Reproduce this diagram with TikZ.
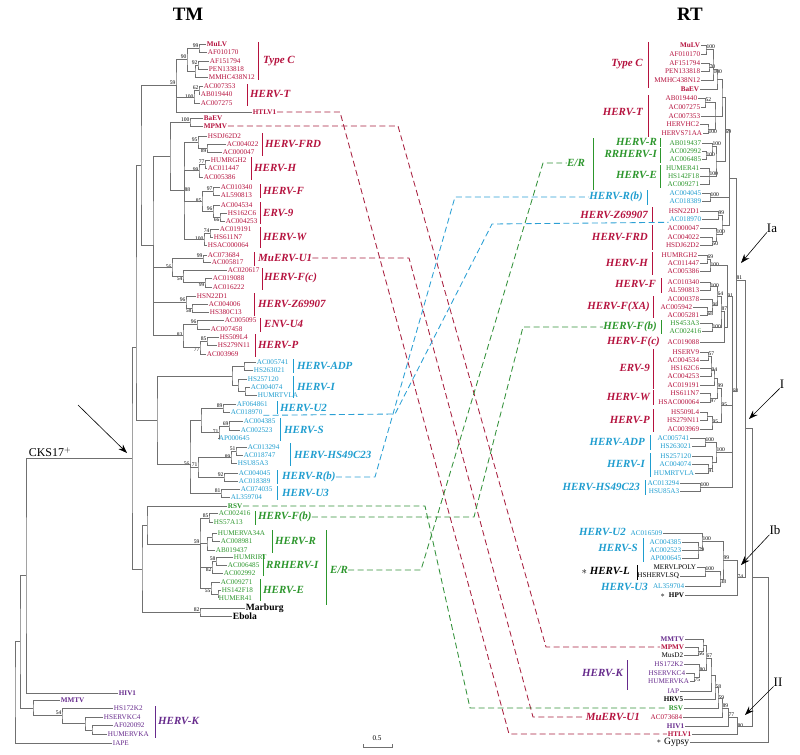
\documentclass[tikz,border=0pt]{standalone}
\usepackage{fontspec}
\setmainfont{Liberation Serif}
\usetikzlibrary{arrows.meta}
\definecolor{ervred}{HTML}{B5123E}
\definecolor{ervblue}{HTML}{1F9DCF}
\definecolor{ervgreen}{HTML}{2C962C}
\definecolor{ervpurple}{HTML}{662A8C}
\definecolor{brgray}{HTML}{707070}
\definecolor{lnkred}{HTML}{A8203F}
\definecolor{lnkgreen}{HTML}{33913A}
\definecolor{lnkblue}{HTML}{2A9FD4}
\newcommand{\lfont}{\fontsize{7.2}{8}\selectfont}
\newcommand{\gfont}{\fontsize{11}{12}\selectfont\bfseries\itshape}
\newcommand{\bfont}{\fontsize{5.6}{6}\selectfont}
\newcommand{\tfont}{\fontsize{19}{20}\selectfont\bfseries}
\newcommand{\cfont}{\fontsize{13}{14}\selectfont}

\begin{document}
\begin{tikzpicture}[x=1bp,y=-1bp,
  leafL/.style={anchor=west, inner sep=0.7pt, font=\lfont},
  leafR/.style={anchor=east, inner sep=0.7pt, font=\lfont},
  virL/.style={leafL, font=\lfont\bfseries},
  virR/.style={leafR, font=\lfont\bfseries},
  grpL/.style={anchor=west, inner sep=0pt, font=\gfont},
  grpR/.style={anchor=east, inner sep=0pt, font=\gfont},
  br/.style={draw=brgray, line width=0.55pt},
  bs/.style={font=\bfont, inner sep=0.4pt, text=black},
  brk/.style={line width=0.6pt},
  lnk/.style={line width=0.85pt, dash pattern=on 6pt off 3.5pt},
  clade/.style={font=\cfont, inner sep=0pt},
  star/.style={anchor=east, inner sep=0pt, font=\fontsize{8.5}{9}\selectfont},
  pnt/.style={-{Stealth[length=9pt,width=6.5pt]}, line width=0.6pt},
]
\useasboundingbox (0,0) rectangle (800,755);
% titles
\node[font=\tfont] (ttm) at (188,14) {TM};
\node[font=\tfont] (trt) at (690,14) {RT};

% ================= TM tree: leaves =================
\foreach \n/\y/\x in {AF010170/52/207, AF151794/61/209, PEN133818/69/208, MMHC438N12/77/208,
  AC007353/86/203, AB019440/94/200, AC007275/103/200, HSDJ62D2/136/207, AC004022/144/226,
  AC000047/152/222, HUMRGH2/160/210, AC011447/168/207, AC005386/177/203, AC010340/187/220,
  AL590813/195/220, AC004534/205/220, HS162C6/213/227, AC004253/221/225, AC019191/229/219,
  HS611N7/237/213, HSAC000064/245/207, AC073684/255/207, AC005817/262/211, AC020617/270/227,
  AC019088/278/212, AC016222/287/212, HSN22D1/296/196, AC004006/304/208, HS380C13/312/209,
  AC005095/320/224, AC007458/329/210, HS509L4/337/219, HS279N11/345/217, AC003969/354/206}
  \node[leafL, text=ervred] (tm-\n) at (\x,\y) {\n};
\foreach \n/\y/\x in {MuLV/44/206, HTLV1/112/252, BaEV/118/203, MPMV/126/203}
  \node[virL, text=ervred] (tm-\n) at (\x,\y) {\n};
\foreach \n/\y/\x in {AC005741/362/256, HS263021/370/253, HS257120/379/247, AC004074/387/250,
  HUMRTVLA/395/257, AF064861/404/236, AC018970/412/230, AC004385/421/243, AC002523/430/240,
  AP000645/438/218, AC013294/447/247, AC018747/455/243, HSU85A3/463/237, AC004045/473/238,
  AC018389/481/238, AC074035/489/240, AL359704/497/230}
  \node[leafL, text=ervblue] (tm-\n) at (\x,\y) {\n};
\foreach \n/\y/\x in {AC002416/513/218, HS57A13/522/213, HUMERVA34A/533/217, AC008981/541/220,
  AB019437/550/215, HUMRIRT/557/233, AC006485/565/227, AC002992/573/223, AC009271/582/220,
  HS142F18/590/221, HUMER41/598/218}
  \node[leafL, text=ervgreen] (tm-\n) at (\x,\y) {\n};
\node[virL, text=ervgreen] (tm-RSV) at (227,506) {RSV};
\node[leafL, font=\fontsize{9.6}{10}\selectfont\bfseries] (tm-Marburg) at (245,608) {Marburg};
\node[leafL, font=\fontsize{9.6}{10}\selectfont\bfseries] (tm-Ebola) at (232,616) {Ebola};
\foreach \n/\y/\x in {HS172K2/708/113, HSERVKC4/717/103, AF020092/725/113, HUMERVKA/734/107, IAPE/743/112}
  \node[leafL, text=ervpurple] (tm-\n) at (\x,\y) {\n};
\foreach \n/\y/\x in {HIV1/693/118, MMTV/700/60}
  \node[virL, text=ervpurple] (tm-\n) at (\x,\y) {\n};

% ================= TM tree: branches =================
\coordinate[label={[bs]above left:99}] (a1) at (199,48);
\coordinate[label={[bs]above left:92}] (a2) at (198,65);
\coordinate (a3) at (195,71);
\coordinate[label={[bs]above left:90}] (a4) at (187,59);
\coordinate[label={[bs]above left:62}] (t1) at (199,90);
\coordinate[label={[bs]left:100}] (t2) at (194,97);
\coordinate[label={[bs]above left:59}] (a5) at (176,85);
\coordinate[label={[bs]above left:100}] (m1) at (190,122);
\coordinate[label={[bs]below left:89}] (f1) at (207,148);
\coordinate[label={[bs]above left:95}] (f2) at (198,142);
\coordinate[label={[bs]above left:77}] (h1) at (205,164);
\coordinate[label={[bs]left:99}] (h2) at (199,170);
\coordinate[label={[bs]above left:97}] (g1) at (213,191);
\coordinate[label={[bs]below left:66}] (e1) at (220,217);
\coordinate[label={[bs]above left:96}] (e2) at (213,211);
\coordinate[label={[bs]left:85}] (g2) at (202,201);
\coordinate[label={[bs]above left:74}] (w1) at (210,233);
\coordinate[label={[bs]left:100}] (w2) at (204,239);
\coordinate[label={[bs]right:88}] (r1) at (184,190);
\coordinate (r2) at (170,156);
\coordinate[label={[bs]above left:99}] (u1) at (203,258);
\coordinate[label={[bs]below left:99}] (fc1) at (205,282);
\coordinate[label={[bs]below left:54}] (fc2) at (183,276);
\coordinate[label={[bs]left:56}] (u2) at (172,267);
\coordinate[label={[bs]below left:58}] (z1) at (192,308);
\coordinate[label={[bs]above left:96}] (z2) at (186,302);
\coordinate[label={[bs]above left:96}] (v1) at (197,324);
\coordinate[label={[bs]above left:85}] (p1) at (207,341);
\coordinate[label={[bs]below left:77}] (p2) at (200,347);
\coordinate[label={[bs]left:83}] (v2) at (183,335);
\coordinate (r3) at (153,245);
\coordinate (r5) at (141,165);
\draw[br] (tm-MuLV.west) -| (a1) |- (tm-AF010170.west);
\draw[br] (tm-AF151794.west) -| (a2) |- (tm-PEN133818.west);
\draw[br] (a2) -| (a3) |- (tm-MMHC438N12.west);
\draw[br] (a1) -| (a4) |- (a3);
\draw[br] (tm-AC007353.west) -| (t1) |- (tm-AB019440.west);
\draw[br] (t1) -| (t2) |- (tm-AC007275.west);
\draw[br] (a4) -| (a5) |- (tm-HTLV1.west) (t2) -| (a5);
\draw[br] (tm-BaEV.west) -| (m1) |- (tm-MPMV.west);
\draw[br] (tm-AC004022.west) -| (f1) |- (tm-AC000047.west);
\draw[br] (tm-HSDJ62D2.west) -| (f2) |- (f1);
\draw[br] (tm-HUMRGH2.west) -| (h1) |- (tm-AC011447.west);
\draw[br] (h1) -| (h2) |- (tm-AC005386.west);
\draw[br] (tm-AC010340.west) -| (g1) |- (tm-AL590813.west);
\draw[br] (tm-HS162C6.west) -| (e1) |- (tm-AC004253.west);
\draw[br] (tm-AC004534.west) -| (e2) |- (e1);
\draw[br] (g1) -| (g2) |- (e2);
\draw[br] (tm-AC019191.west) -| (w1) |- (tm-HS611N7.west);
\draw[br] (w1) -| (w2) |- (tm-HSAC000064.west);
\draw[br] (f2) -| (r1) |- (w2) (h2) -| (r1) (g2) -| (r1);
\draw[br] (m1) -| (r2) |- (r1);
\draw[br] (tm-AC073684.west) -| (u1) |- (tm-AC005817.west);
\draw[br] (tm-AC019088.west) -| (fc1) |- (tm-AC016222.west);
\draw[br] (tm-AC020617.west) -| (fc2) |- (fc1);
\draw[br] (u1) -| (u2) |- (fc2);
\draw[br] (tm-AC004006.west) -| (z1) |- (tm-HS380C13.west);
\draw[br] (tm-HSN22D1.west) -| (z2) |- (z1);
\draw[br] (tm-AC005095.west) -| (v1) |- (tm-AC007458.west);
\draw[br] (tm-HS509L4.west) -| (p1) |- (tm-HS279N11.west);
\draw[br] (p1) -| (p2) |- (tm-AC003969.west);
\draw[br] (v1) -| (v2) |- (p2);
\draw[br] (r2) -| (r3) |- (v2) (u2) -| (r3) (z2) -| (r3);
\draw[br] (a5) -| (r5) |- (r3);
% blue part
\coordinate (d1) at (244,366);
\coordinate (i1) at (245,391);
\coordinate (i2) at (238,385);
\coordinate (d2) at (232,376);
\coordinate[label={[bs]above left:89}] (s0) at (223,408);
\coordinate[label={[bs]above left:69}] (s1) at (229,426);
\coordinate[label={[bs]left:71}] (s2) at (219,432);
\coordinate (s3) at (201,420);
\coordinate[label={[bs]above left:51}] (k1) at (236,451);
\coordinate[label={[bs]left:89}] (k2) at (231,457);
\coordinate[label={[bs]above left:92}] (rb) at (224,477);
\coordinate[label={[bs]above left:71}] (k3) at (198,467);
\coordinate[label={[bs]above left:81}] (u3) at (221,493);
\coordinate[label={[bs]left:56}] (s4) at (190,464);
\coordinate (bl) at (157,420);
\coordinate (r4) at (136,347);
\draw[br] (tm-AC005741.west) -| (d1) |- (tm-HS263021.west);
\draw[br] (tm-AC004074.west) -| (i1) |- (tm-HUMRTVLA.west);
\draw[br] (tm-HS257120.west) -| (i2) |- (i1);
\draw[br] (d1) -| (d2) |- (i2);
\draw[br] (tm-AF064861.west) -| (s0) |- (tm-AC018970.west);
\draw[br] (tm-AC004385.west) -| (s1) |- (tm-AC002523.west);
\draw[br] (s1) -| (s2) |- (tm-AP000645.west);
\draw[br] (s0) -| (s3) |- (s2);
\draw[br] (tm-AC013294.west) -| (k1) |- (tm-AC018747.west);
\draw[br] (k1) -| (k2) |- (tm-HSU85A3.west);
\draw[br] (tm-AC004045.west) -| (rb) |- (tm-AC018389.west);
\draw[br] (k2) -| (k3) |- (rb);
\draw[br] (tm-AC074035.west) -| (u3) |- (tm-AL359704.west);
\draw[br] (s3) -| (s4) |- (u3) (k3) -| (s4);
\draw[br] (d2) -| (bl) |- (s4);
\draw[br] (r5) -| (r4) |- (bl);
% green part
\coordinate[label={[bs]above left:85}] (gb) at (209,518);
\coordinate (gr1) at (212,537);
\coordinate (gr2) at (207,543);
\coordinate[label={[bs]above left:58}] (gi1) at (216,561);
\coordinate[label={[bs]below left:82}] (gi2) at (212,567);
\coordinate (ge1) at (218,594);
\coordinate[label={[bs]below left:55}] (ge2) at (211,588);
\coordinate[label={[bs]above left:59}] (g59) at (200,544);
\coordinate (rsv) at (147,525);
\coordinate[label={[bs]above left:82}] (mb) at (200,612);
\coordinate (low) at (142,569);
\coordinate (ck) at (132,458);
\draw[br] (tm-AC002416.west) -| (gb) |- (tm-HS57A13.west);
\draw[br] (tm-HUMERVA34A.west) -| (gr1) |- (tm-AC008981.west);
\draw[br] (gr1) -| (gr2) |- (tm-AB019437.west);
\draw[br] (tm-HUMRIRT.west) -| (gi1) |- (tm-AC006485.west);
\draw[br] (gi1) -| (gi2) |- (tm-AC002992.west);
\draw[br] (tm-HS142F18.west) -| (ge1) |- (tm-HUMER41.west);
\draw[br] (tm-AC009271.west) -| (ge2) |- (ge1);
\draw[br] (gb) -| (g59) |- (ge2) (gr2) -| (g59) (gi2) -| (g59);
\draw[br] (tm-RSV.west) -| (rsv) |- (g59);
\draw[br] (tm-Marburg.west) -| (mb) |- (tm-Ebola.west);
\draw[br] (rsv) -| (low) |- (mb);
\draw[br] (r4) -| (ck) |- (low);
% purple part and root
\coordinate (kk1) at (92,730);
\coordinate (kk2) at (85,723);
\coordinate[label={[bs]above left:54}] (kk3) at (62,715);
\coordinate (kk4) at (33,708);
\coordinate (rt1) at (26,575);
\coordinate (rt2) at (20,641);
\coordinate (rt3) at (15,692);
\draw[br] (tm-AF020092.west) -| (kk1) |- (tm-HUMERVKA.west);
\draw[br] (tm-HSERVKC4.west) -| (kk2) |- (kk1);
\draw[br] (tm-HS172K2.west) -| (kk3) |- (kk2);
\draw[br] (tm-MMTV.west) -| (kk4) |- (kk3);
\draw[br] (ck) -| (rt1) |- (tm-HIV1.west);
\draw[br] (rt1) -| (rt2) |- (kk4);
\draw[br] (rt2) -| (rt3) |- (tm-IAPE.west);

% ================= TM groups =================
\node[grpL, text=ervred] (tmg-typec) at (263,61) {Type C};
\node[grpL, text=ervred] (tmg-t) at (250,94) {HERV-T};
\node[grpL, text=ervred] (tmg-frd) at (265,144) {HERV-FRD};
\node[grpL, text=ervred] (tmg-h) at (254,168) {HERV-H};
\node[grpL, text=ervred] (tmg-f) at (263,191) {HERV-F};
\node[grpL, text=ervred] (tmg-erv9) at (263,213) {ERV-9};
\node[grpL, text=ervred] (tmg-w) at (263,237) {HERV-W};
\node[grpL, text=ervred] (tmg-muerv) at (258,258) {MuERV-U1};
\node[grpL, text=ervred] (tmg-fc) at (264,278) {HERV-F(c)};
\node[grpL, text=ervred] (tmg-z) at (258,304) {HERV-Z69907};
\node[grpL, text=ervred] (tmg-u4) at (264,324) {ENV-U4};
\node[grpL, text=ervred] (tmg-p) at (258,345) {HERV-P};
\node[grpL, text=ervblue] (tmg-adp) at (297,366) {HERV-ADP};
\node[grpL, text=ervblue] (tmg-i) at (297,387) {HERV-I};
\node[grpL, text=ervblue] (tmg-u2) at (280,408) {HERV-U2};
\node[grpL, text=ervblue] (tmg-s) at (284,430) {HERV-S};
\node[grpL, text=ervblue] (tmg-hs) at (294,455) {HERV-HS49C23};
\node[grpL, text=ervblue] (tmg-rb) at (282,477) {HERV-R(b)};
\node[grpL, text=ervblue] (tmg-u3) at (282,493) {HERV-U3};
\node[grpL, text=ervgreen] (tmg-fb) at (258,517) {HERV-F(b)};
\node[grpL, text=ervgreen] (tmg-r) at (275,541) {HERV-R};
\node[grpL, text=ervgreen] (tmg-rr) at (266,565) {RRHERV-I};
\node[grpL, text=ervgreen] (tmg-e) at (263,590) {HERV-E};
\node[grpL, text=ervgreen] (tmg-er) at (330,570) {E/R};
\node[grpL, text=ervpurple] (tmg-k) at (158,721) {HERV-K};
\foreach \x/\a/\b in {258/42/80, 247/84/106, 262/133/156, 251/157/180, 260/184/198, 260/202/224,
  260/227/248, 254/252/266, 262/268/290, 254/293/316, 260/318/332, 255/334/357}
  \draw[brk, ervred] (\x,\a) -- (\x,\b);
\foreach \x/\a/\b in {293/359/373, 293/376/398, 277/401/414, 280/418/441, 290/443/466, 277/470/484, 277/486/500}
  \draw[brk, ervblue] (\x,\a) -- (\x,\b);
\foreach \x/\a/\b in {255/511/525, 272/530/553, 263/554/576, 260/579/601, 326/530/605}
  \draw[brk, ervgreen] (\x,\a) -- (\x,\b);
\draw[brk, ervpurple] (155,706) -- (155,738);
\node[clade, font=\fontsize{12}{13}\selectfont] (cks) at (50,452) {CKS17$^{+}$};
\coordinate (cks-tip) at (127,453);
\draw[pnt] (78,405) -- (cks-tip);

% ================= RT tree: leaves =================
\foreach \n/\y/\x in {AF010170/54/701, AF151794/63/701, PEN133818/71/701, MMHC438N12/80/701,
  AB019440/98/698, AC007275/107/701, AC007353/116/701, HERVHC2/124/700, HERVS71AA/133/703,
  HSN22D1/211/700, AC000047/228/700, AC004022/237/700, HSDJ62D2/245/700, HUMRGH2/255/698,
  AC011447/263/700, AC005386/271/700, AC010340/282/700, AL590813/290/700, AC000378/299/700,
  AC005942/307/693, AC005281/315/700, AC019088/342/700, HSERV9/352/700, AC004534/360/700,
  HS162C6/368/700, AC004253/376/700, AC019191/385/700, HS611N7/393/700, HSAC000064/402/700,
  HS509L4/412/700, HS279N11/420/700, AC003969/429/700, AC073684/717/683}
  \node[leafR, text=ervred] (rt-\n) at (\x,\y) {\n};
\foreach \n/\y/\x in {MuLV/45/701, BaEV/89/700, MPMV/647/685, HTLV1/734/692}
  \node[virR, text=ervred] (rt-\n) at (\x,\y) {\n};
\foreach \n/\y/\x in {AB019437/143/702, AC002992/151/702, AC006485/159/702, HUMER41/168/700,
  HS142F18/176/700, AC009271/184/700, HS453A3/323/700, AC002416/331/702}
  \node[leafR, text=ervgreen] (rt-\n) at (\x,\y) {\n};
\node[virR, text=ervgreen] (rt-RSV) at (684,708) {RSV};
\foreach \n/\y/\x in {AC004045/193/702, AC018389/201/702, AC018970/219/702, AC005741/438/690,
  HS263021/446/692, HS257120/456/692, AC004074/464/692, HUMRTVLA/473/695, AC013294/483/680,
  HSU85A3/491/680, AC016509/533/663, AC004385/542/682, AC002523/550/682, AP000645/558/682,
  AL359704/586/685}
  \node[leafR, text=ervblue] (rt-\n) at (\x,\y) {\n};
\foreach \n/\y/\x in {MERVLPOLY/567/697, HSHERVLSQ/576/680, MusD2/655/684}
  \node[leafR] (rt-\n) at (\x,\y) {\n};
\foreach \n/\y/\x in {HPV/595/685, HRV5/699/684}
  \node[virR] (rt-\n) at (\x,\y) {\n};
\foreach \n/\y/\x in {HS172K2/664/684, HSERVKC4/673/686, HUMERVKA/681/690, IAP/691/680}
  \node[leafR, text=ervpurple] (rt-\n) at (\x,\y) {\n};
\foreach \n/\y/\x in {MMTV/639/685, HIV1/726/685}
  \node[virR, text=ervpurple] (rt-\n) at (\x,\y) {\n};
\node[leafR, font=\fontsize{9.6}{10}\selectfont] (rt-Gypsy) at (690,742) {Gypsy};
\node[star] (rt-gstar) at ([xshift=-2bp]rt-Gypsy.west) {$\ast$};
\node[star] (rt-hstar) at ([xshift=-3bp,yshift=-1bp]rt-HPV.west) {$\ast$};

% ================= RT tree: branches =================
\coordinate[label={[bs]above right:100}] (R-c1) at (706,49);
\coordinate[label={[bs]right:70}] (R-c2) at (709,67);
\coordinate[label={[bs]below right:100}] (R-c3) at (713,69);
\coordinate (R-c4) at (717,79);
\coordinate[label={[bs]above right:52}] (R-t1) at (705,102);
\coordinate[label={[bs]below right:100}] (R-t2) at (708,129);
\coordinate (R-t3) at (715,116);
\coordinate (R-a) at (722,97);
\coordinate[label={[bs]right:100}] (R-e1) at (706,155);
\coordinate[label={[bs]above right:100}] (R-e2) at (712,146);
\coordinate[label={[bs]above right:100}] (R-e3) at (709,176);
\coordinate (R-e4) at (716,161);
\coordinate[label={[bs]below right:69}] (R-b) at (725,129);
\coordinate[label={[bs]above right:100}] (R-rb) at (710,197);
\coordinate[label={[bs]above right:99}] (R-z1) at (718,215);
\coordinate[label={[bs]below right:50}] (R-f1) at (712,241);
\coordinate[label={[bs]above right:100}] (R-f2) at (716,234);
\coordinate (R-z2) at (722,225);
\coordinate (R-c) at (729,178);
\draw[br] (rt-MuLV.east) -| (R-c1) |- (rt-AF010170.east);
\draw[br] (rt-AF151794.east) -| (R-c2) |- (rt-PEN133818.east);
\draw[br] (R-c1) -| (R-c3) |- (rt-MMHC438N12.east) (R-c2) -| (R-c3);
\draw[br] (R-c3) -| (R-c4) |- (rt-BaEV.east);
\draw[br] (rt-AB019440.east) -| (R-t1) |- (rt-AC007275.east);
\draw[br] (rt-HERVHC2.east) -| (R-t2) |- (rt-HERVS71AA.east);
\draw[br] (R-t1) -| (R-t3) |- (R-t2) (rt-AC007353.east) -| (R-t3);
\draw[br] (R-c4) -| (R-a) |- (R-t3);
\draw[br] (rt-AC002992.east) -| (R-e1) |- (rt-AC006485.east);
\draw[br] (rt-AB019437.east) -| (R-e2) |- (R-e1);
\draw[br] (rt-HUMER41.east) -| (R-e3) |- (rt-AC009271.east) (rt-HS142F18.east) -| (R-e3);
\draw[br] (R-e2) -| (R-e4) |- (R-e3);
\draw[br] (R-a) -| (R-b) |- (R-e4);
\draw[br] (rt-AC004045.east) -| (R-rb) |- (rt-AC018389.east);
\draw[br] (rt-HSN22D1.east) -| (R-z1) |- (rt-AC018970.east);
\draw[br] (rt-AC004022.east) -| (R-f1) |- (rt-HSDJ62D2.east);
\draw[br] (rt-AC000047.east) -| (R-f2) |- (R-f1);
\draw[br] (R-z1) -| (R-z2) |- (R-f2);
\draw[br] (R-b) -| (R-c) |- (R-z2) (R-rb) -| (R-c);
\coordinate[label={[bs]above right:69}] (R-h1) at (707,259);
\coordinate[label={[bs]right:100}] (R-h2) at (710,265);
\coordinate[label={[bs]right:100}] (R-g1) at (710,286);
\coordinate[label={[bs]below right:68}] (R-x1) at (707,311);
\coordinate[label={[bs]right:98}] (R-x2) at (712,305);
\coordinate[label={[bs]above right:64}] (R-x3) at (717,296);
\coordinate[label={[bs]right:100}] (R-fb) at (712,327);
\coordinate[label={[bs]above right:87}] (R-x4) at (721,311);
\coordinate (R-x5) at (724,327);
\coordinate[label={[bs]right:91}] (R-h3) at (727,296);
\coordinate[label={[bs]above right:57}] (R-n1) at (708,356);
\coordinate[label={[bs]right:94}] (R-n2) at (711,370);
\coordinate (R-n3) at (714,378);
\coordinate[label={[bs]below right:97}] (R-w1) at (710,398);
\coordinate[label={[bs]above right:99}] (R-w2) at (717,388);
\coordinate (R-p1) at (707,416);
\coordinate[label={[bs]right:95}] (R-p2) at (712,422);
\coordinate[label={[bs]right:95}] (R-w3) at (721,405);
\coordinate[label={[bs]above right:100}] (R-d1) at (705,442);
\coordinate[label={[bs]below right:91}] (R-i1) at (708,468);
\coordinate (R-i2) at (712,462);
\coordinate[label={[bs]above right:100}] (R-d2) at (716,452);
\coordinate[label={[bs]above right:100}] (R-hs) at (700,487);
\coordinate[label={[bs]right:68}] (R-m) at (732,391);
\coordinate[label={[bs]above right:81}] (R-Ia) at (736,280);
\draw[br] (rt-HUMRGH2.east) -| (R-h1) |- (rt-AC011447.east);
\draw[br] (R-h1) -| (R-h2) |- (rt-AC005386.east);
\draw[br] (rt-AC010340.east) -| (R-g1) |- (rt-AL590813.east);
\draw[br] (rt-AC005942.east) -| (R-x1) |- (rt-AC005281.east);
\draw[br] (rt-AC000378.east) -| (R-x2) |- (R-x1);
\draw[br] (R-g1) -| (R-x3) |- (R-x2);
\draw[br] (rt-HS453A3.east) -| (R-fb) |- (rt-AC002416.east);
\draw[br] (R-x3) -| (R-x4) |- (R-fb);
\draw[br] (R-x4) -| (R-x5) |- (rt-AC019088.east);
\draw[br] (R-h2) -| (R-h3) |- (R-x5);
\draw[br] (rt-HSERV9.east) -| (R-n1) |- (rt-AC004534.east);
\draw[br] (R-n1) -| (R-n2) |- (rt-AC004253.east) (rt-HS162C6.east) -| (R-n2);
\draw[br] (R-n2) -| (R-n3) |- (rt-AC019191.east);
\draw[br] (rt-HS611N7.east) -| (R-w1) |- (rt-HSAC000064.east);
\draw[br] (R-n3) -| (R-w2) |- (R-w1);
\draw[br] (rt-HS509L4.east) -| (R-p1) |- (rt-HS279N11.east);
\draw[br] (R-p1) -| (R-p2) |- (rt-AC003969.east);
\draw[br] (R-w2) -| (R-w3) |- (R-p2);
\draw[br] (rt-AC005741.east) -| (R-d1) |- (rt-HS263021.east);
\draw[br] (rt-AC004074.east) -| (R-i1) |- (rt-HUMRTVLA.east);
\draw[br] (rt-HS257120.east) -| (R-i2) |- (R-i1);
\draw[br] (R-d1) -| (R-d2) |- (R-i2);
\draw[br] (rt-AC013294.east) -| (R-hs) |- (rt-HSU85A3.east);
\draw[br] (R-h3) -| (R-m) |- (R-hs) (R-w3) -| (R-m) (R-d2) -| (R-m);
\draw[br] (R-c) -| (R-Ia) |- (R-m);
% clade Ib
\coordinate[label={[bs]right:79}] (R-s1) at (698,550);
\coordinate[label={[bs]above right:100}] (R-u2) at (702,541);
\coordinate[label={[bs]above right:100}] (R-l1) at (705,571);
\coordinate[label={[bs]below right:38}] (R-l2) at (720,579);
\coordinate[label={[bs]above right:99}] (R-u3) at (723,560);
\coordinate[label={[bs]right:74}] (R-Ib) at (737,577);
\coordinate (R-I) at (745,428);
\draw[br] (rt-AC004385.east) -| (R-s1) |- (rt-AP000645.east) (rt-AC002523.east) -| (R-s1);
\draw[br] (rt-AC016509.east) -| (R-u2) |- (R-s1);
\draw[br] (rt-MERVLPOLY.east) -| (R-l1) |- (rt-HSHERVLSQ.east);
\draw[br] (R-l1) -| (R-l2) |- (rt-AL359704.east);
\draw[br] (R-u2) -| (R-u3) |- (R-l2);
\draw[br] (R-u3) -| (R-Ib) |- (rt-HPV.east);
\draw[br] (R-Ia) -| (R-I) |- (R-Ib);
% clade II and root
\coordinate[label={[bs]below right:56}] (R-k1) at (698,651);
\coordinate (R-k2) at (703,645);
\coordinate[label={[bs]below right:75}] (R-k3) at (694,677);
\coordinate[label={[bs]right:80}] (R-k4) at (699,670);
\coordinate[label={[bs]above right:67}] (R-k5) at (706,658);
\coordinate (R-k6) at (711,675);
\coordinate[label={[bs]right:58}] (R-k7) at (715,687);
\coordinate[label={[bs]right:59}] (R-k8) at (718,698);
\coordinate[label={[bs]above right:89}] (R-k9) at (722,708);
\coordinate[label={[bs]above right:77}] (R-k10) at (728,717);
\coordinate[label={[bs]right:80}] (R-II) at (737,726);
\coordinate (R-top) at (752,577);
\coordinate (R-root) at (768,660);
\draw[br] (rt-MPMV.east) -| (R-k1) |- (rt-MusD2.east);
\draw[br] (rt-MMTV.east) -| (R-k2) |- (R-k1);
\draw[br] (rt-HSERVKC4.east) -| (R-k3) |- (rt-HUMERVKA.east);
\draw[br] (rt-HS172K2.east) -| (R-k4) |- (R-k3);
\draw[br] (R-k2) -| (R-k5) |- (R-k4);
\draw[br] (R-k5) -| (R-k6) |- (rt-IAP.east);
\draw[br] (R-k6) -| (R-k7) |- (rt-HRV5.east);
\draw[br] (R-k7) -| (R-k8) |- (rt-RSV.east);
\draw[br] (R-k8) -| (R-k9) |- (rt-AC073684.east);
\draw[br] (R-k9) -| (R-k10) |- (rt-HIV1.east);
\draw[br] (R-k10) -| (R-II) |- (rt-HTLV1.east);
\draw[br] (R-I) -| (R-top) |- (R-II);
\draw[br] (R-top) -| (R-root) |- (rt-Gypsy.east);

% ================= RT groups =================
\node[grpR, text=ervred] (rtg-typec) at (643,64) {Type C};
\node[grpR, text=ervred] (rtg-t) at (643,112) {HERV-T};
\node[grpR, text=ervgreen] (rtg-r) at (657,142) {HERV-R};
\node[grpR, text=ervgreen] (rtg-rr) at (657,154) {RRHERV-I};
\node[grpR, text=ervgreen] (rtg-e) at (657,175) {HERV-E};
\node[grpR, text=ervgreen] (rtg-er) at (585,163) {E/R};
\node[grpR, text=ervblue] (rtg-rb) at (643,197) {HERV-R(b)};
\node[grpR, text=ervred] (rtg-z) at (648,215) {HERV-Z69907};
\node[grpR, text=ervred] (rtg-frd) at (648,237) {HERV-FRD};
\node[grpR, text=ervred] (rtg-h) at (648,263) {HERV-H};
\node[grpR, text=ervred] (rtg-f) at (656,284) {HERV-F};
\node[grpR, text=ervred] (rtg-fxa) at (650,307) {HERV-F(XA)};
\node[grpR, text=ervgreen] (rtg-fb) at (657,327) {HERV-F(b)};
\node[grpR, text=ervred] (rtg-fc) at (660,342) {HERV-F(c)};
\node[grpR, text=ervred] (rtg-erv9) at (650,368) {ERV-9};
\node[grpR, text=ervred] (rtg-w) at (650,397) {HERV-W};
\node[grpR, text=ervred] (rtg-p) at (650,420) {HERV-P};
\node[grpR, text=ervblue] (rtg-adp) at (645,442) {HERV-ADP};
\node[grpR, text=ervblue] (rtg-i) at (645,464) {HERV-I};
\node[grpR, text=ervblue] (rtg-hs) at (640,487) {HERV-HS49C23};
\node[grpR, text=ervblue] (rtg-u2) at (626,532) {HERV-U2};
\node[grpR, text=ervblue] (rtg-s) at (638,548) {HERV-S};
\node[grpR] (rtg-l) at (630,571) {$\ast$ HERV-L};
\node[grpR, text=ervblue] (rtg-u3) at (648,587) {HERV-U3};
\node[grpR, text=ervpurple] (rtg-k) at (623,673) {HERV-K};
\node[grpR, text=ervred] (rtg-muerv) at (640,717) {MuERV-U1};
\foreach \x/\a/\b in {648/42/88, 648/95/137, 652/207/222, 652/225/250, 652/252/275, 661/278/293,
  653/296/318, 653/349/389, 653/390/405, 653/409/432}
  \draw[brk, ervred] (\x,\a) -- (\x,\b);
\foreach \x/\a/\b in {660/138/147, 660/148/163, 660/165/188, 593/138/190, 661/320/334}
  \draw[brk, ervgreen] (\x,\a) -- (\x,\b);
\foreach \x/\a/\b in {647/190/205, 650/435/450, 650/453/477, 645/480/495, 643/538/562}
  \draw[brk, ervblue] (\x,\a) -- (\x,\b);
\draw[brk] (637,565) -- (637,580);
\draw[brk, ervpurple] (627,660) -- (627,690);

% clade labels
\node[clade] (cl-Ia) at (772,228) {Ia};
\node[clade] (cl-I) at (782,384) {I};
\node[clade] (cl-Ib) at (775,530) {Ib};
\node[clade] (cl-II) at (778,682) {II};
\draw[pnt] (cl-Ia.south west) -- (741,263);
\draw[pnt] (cl-I.south west) -- (749,419);
\draw[pnt] (cl-Ib.south west) -- (741,565);
\draw[pnt] (cl-II.south west) -- (745,715);

% ================= TM -- RT links =================
\coordinate (k-htlv-a) at (340,112);   \coordinate (k-htlv-b) at (509,734);
\coordinate (k-mpmv-a) at (398,126);   \coordinate (k-mpmv-b) at (546,647);
\coordinate (k-muerv-a) at (409,258);  \coordinate (k-muerv-b) at (533,717);
\coordinate (k-rsv-a) at (425,506);    \coordinate (k-rsv-b) at (470,708);
\coordinate (k-fb-a) at (474,517);     \coordinate (k-fb-b) at (523,327);
\coordinate (k-er-a) at (421,570);     \coordinate (k-er-b) at (543,163);
\coordinate (k-u2-a) at (395,414);     \coordinate (k-u2-b) at (492,224);
\coordinate (k-rb-a) at (375,477);     \coordinate (k-rb-b) at (455,197);
\draw[lnk, lnkred] (tm-HTLV1.east) -- (k-htlv-a) -- (k-htlv-b) -- (rt-HTLV1.west);
\draw[lnk, lnkred] (tm-MPMV.east) -- (k-mpmv-a) -- (k-mpmv-b) -- (rt-MPMV.west);
\draw[lnk, lnkred] (tmg-muerv.east) -- (k-muerv-a) -- (k-muerv-b) -- (rtg-muerv.west);
\draw[lnk, lnkgreen] (tm-RSV.east) -- (k-rsv-a) -- (k-rsv-b) -- (rt-RSV.west);
\draw[lnk, lnkgreen] (tmg-fb.east) -- (k-fb-a) -- (k-fb-b) -- (rtg-fb.west);
\draw[lnk, lnkgreen] (tmg-er.east) -- (k-er-a) -- (k-er-b) -- (rtg-er.west);
\draw[lnk, lnkblue] (tm-AC018970.south east) -- (k-u2-a) -- (k-u2-b) -- (rt-AC018970.south west);
\draw[lnk, lnkblue] (tmg-rb.east) -- (k-rb-a) -- (k-rb-b) -- (rtg-rb.west);

% scale bar
\node[font=\lfont] (scl) at (377,738) {0.5};
\draw[br] (363,744) -- (363,747) -- (392,747) -- (392,744);
\end{tikzpicture}
\end{document}
